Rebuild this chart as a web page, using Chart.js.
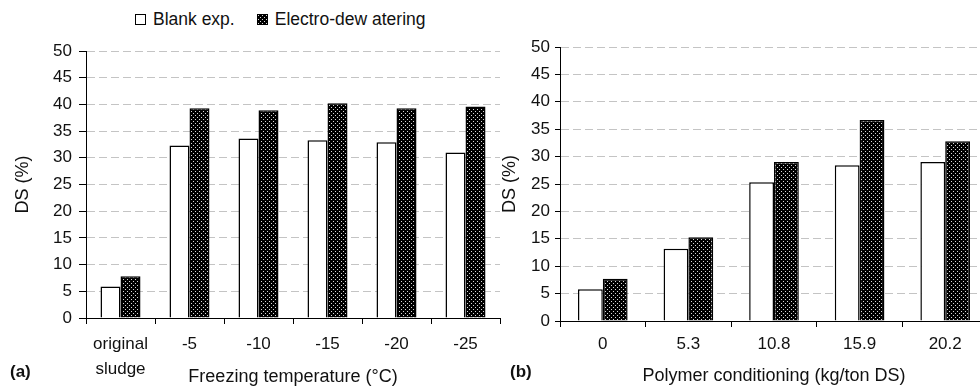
<!DOCTYPE html>
<html>
<head>
<meta charset="utf-8">
<script src="https://cdn.jsdelivr.net/npm/chart.js@4"></script>
<style>
  body {
    margin: 0;
    width: 980px;
    height: 390px;
    overflow: hidden;
    position: relative;
    background: #fff;
    color: #111;
    font-family: "Liberation Sans", Arial, sans-serif;
  }
  canvas { position: absolute; top: 0; }
  #legend {
    position: absolute;
    left: 135px;
    top: 9px;
    display: flex;
    align-items: center;
    font-size: 17.5px;
    line-height: 20px;
  }
  #legend .item { display: flex; align-items: center; margin-right: 22px; }
  #legend canvas { position: static; margin-right: 7px; }
  .panel {
    position: absolute;
    top: 362px;
    font-size: 17px;
    line-height: 20px;
    font-weight: bold;
  }
</style>
</head>
<body>
<div id="legend"></div>
<canvas id="chartA" width="505" height="390" style="left:0"></canvas>
<canvas id="chartB" width="500" height="390" style="left:490px"></canvas>
<div class="panel" style="left:10px">(a)</div>
<div class="panel" style="left:510px">(b)</div>

<script>
const seriesNames = ['Blank exp.', 'Electro-dew atering'];

// (a) freezing temperature
const tempLabels = [['original', 'sludge'], '-5', '-10', '-15', '-20', '-25'];
const tempBlank = [5.9, 32.3, 33.6, 33.3, 32.9, 31.0];
const tempElectro = [7.8, 39.3, 38.9, 40.2, 39.3, 39.6];

// (b) polymer dose
const polymerLabels = ['0', '5.3', '10.8', '15.9', '20.2'];
const polymerBlank = [5.8, 13.2, 25.3, 28.4, 29.0];
const polymerElectro = [7.7, 15.3, 29.0, 36.7, 32.8];

const yMin = 0;
const yMax = 50;
const yStep = 5;

Chart.defaults.font.family = '"Liberation Sans", Arial, sans-serif';
Chart.defaults.color = '#111';

// black fill with a staggered grid of light dots
function dotPattern() {
  const c = document.createElement('canvas');
  c.width = 4;
  c.height = 4;
  const g = c.getContext('2d');
  g.fillStyle = '#000';
  g.fillRect(0, 0, 4, 4);
  g.fillStyle = '#d9d9d9';
  g.fillRect(1, 1, 1, 1);
  g.fillRect(3, 3, 1, 1);
  return g.createPattern(c, 'repeat');
}

const dots = dotPattern();

function makeDatasets(blank, electro) {
  const common = {
    borderColor: '#000',
    borderWidth: 1.5,
    categoryPercentage: 0.58,
    barPercentage: 1,
  };
  return [
    { ...common, label: seriesNames[0], data: blank, backgroundColor: '#fff' },
    { ...common, label: seriesNames[1], data: electro, backgroundColor: dots },
  ];
}

function makeOptions(cfg) {
  return {
    responsive: false,
    animation: false,
    layout: { padding: { top: cfg.top, right: cfg.right, left: 0, bottom: 0 } },
    plugins: { legend: { display: false }, tooltip: { enabled: false } },
    scales: {
      x: {
        afterFit: (s) => { s.height = cfg.xHeight; },
        grid: { drawOnChartArea: false, offset: true, tickLength: 6, tickColor: '#000' },
        border: { color: '#000' },
        ticks: {
          color: '#111',
          font: { size: 17, lineHeight: 1.47 },
          padding: cfg.xPad,
          maxRotation: 0,
          autoSkip: false,
        },
        title: {
          display: true,
          text: cfg.xTitle,
          color: '#111',
          font: { size: 18 },
          padding: { top: 0, bottom: cfg.xTitlePad },
        },
      },
      y: {
        min: yMin,
        max: yMax,
        afterFit: (s) => { s.width = cfg.yWidth; },
        grid: { color: '#c4c4c4', tickColor: '#000', tickLength: cfg.yTick, tickBorderDash: [] },
        border: { color: '#000', dash: [8, 4] },
        ticks: { stepSize: yStep, color: '#111', font: { size: 17 }, padding: cfg.yPad },
        title: {
          display: true,
          text: 'DS (%)',
          color: '#111',
          font: { size: 18 },
          padding: { top: cfg.yTitlePad, bottom: 0 },
        },
      },
    },
  };
}

const chartA = new Chart(document.getElementById('chartA'), {
  type: 'bar',
  data: { labels: tempLabels, datasets: makeDatasets(tempBlank, tempElectro) },
  options: makeOptions({
    top: 51, right: 5, xHeight: 72, yWidth: 86,
    xPad: 8, xTitlePad: 2, yTick: 7, yPad: 7, yTitlePad: 12,
    xTitle: 'Freezing temperature (\u00B0C)',
  }),
});

new Chart(document.getElementById('chartB'), {
  type: 'bar',
  data: { labels: polymerLabels, datasets: makeDatasets(polymerBlank, polymerElectro) },
  options: makeOptions({
    top: 47, right: 2, xHeight: 69, yWidth: 70,
    xPad: 5, xTitlePad: 3, yTick: 5, yPad: 5, yTitlePad: 9,
    xTitle: 'Polymer conditioning (kg/ton DS)',
  }),
});

// shared legend, built from the first chart's datasets
const legend = document.getElementById('legend');
chartA.data.datasets.forEach((ds) => {
  const item = document.createElement('span');
  item.className = 'item';
  const sw = document.createElement('canvas');
  sw.width = 11;
  sw.height = 11;
  const g = sw.getContext('2d');
  g.fillStyle = ds.backgroundColor;
  g.fillRect(0, 0, 11, 11);
  g.strokeStyle = '#000';
  g.lineWidth = 1;
  g.strokeRect(0.5, 0.5, 10, 10);
  item.appendChild(sw);
  item.appendChild(document.createTextNode(ds.label));
  legend.appendChild(item);
});
</script>
</body>
</html>
